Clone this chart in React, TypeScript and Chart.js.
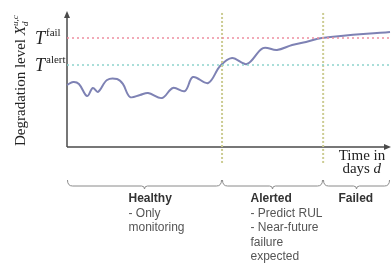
import React, { useEffect, useRef } from "react";
import { Chart, registerables } from "chart.js";

Chart.register(...registerables);

// Degradation curve (x = time in days, y = degradation level)
const days = [0, 1.9, 3.7, 6.2, 8, 9.6, 12.4, 15.5, 17.3, 19.5, 22.6, 25.1, 29.4, 32.8, 36.5, 39, 43.7, 47.4, 51.1, 55.7, 60.7, 65, 69.7, 74, 78.9, 100];
const degradation = [46.6, 48.9, 47.4, 38.3, 44.4, 41.4, 50.4, 51.1, 47.4, 37.6, 39.1, 40.6, 36.8, 44.4, 42.1, 52.6, 48.1, 60.9, 66.9, 62.4, 74.4, 72.9, 76.7, 78.9, 82, 86.5];

// Thresholds
const thresholdFail = 82;
const thresholdAlert = 61.6;

// Phase boundaries (days)
const phaseBounds = [0, 48, 79.3, 100];
const alertDay = 48;
const failDay = 79.3;

// Phase labels (first line bold, rest regular)
const phaseTexts: string[][] = [
  ["Healthy", "- Only", "monitoring"],
  ["Alerted", "- Predict RUL", "- Near-future", "failure", "expected"],
  ["Failed"],
];
const phaseTextOffsets = [-16, -22, -18];

const xAxisLabel = ["Time in", "days d"];
const yAxisLabel = "Degradation level X";

const SERIF = "'Liberation Serif', 'DejaVu Serif', serif";
const SANS = "'Liberation Sans', Arial, sans-serif";

const decorPlugin = {
  id: "decor",
  beforeDatasetsDraw(chart: any) {
    const { ctx, chartArea } = chart;
    const { left, right, top, bottom } = chartArea;
    ctx.save();
    ctx.strokeStyle = "#4a4a4a";
    ctx.fillStyle = "#4a4a4a";
    ctx.lineWidth = 1.5;
    // y axis
    ctx.beginPath();
    ctx.moveTo(left, bottom);
    ctx.lineTo(left, top + 2);
    ctx.stroke();
    ctx.beginPath();
    ctx.moveTo(left, top - 3);
    ctx.lineTo(left - 3, top + 4);
    ctx.lineTo(left + 3, top + 4);
    ctx.closePath();
    ctx.fill();
    // x axis
    ctx.beginPath();
    ctx.moveTo(left, bottom);
    ctx.lineTo(right - 3, bottom);
    ctx.stroke();
    ctx.beginPath();
    ctx.moveTo(right + 1, bottom);
    ctx.lineTo(right - 6, bottom - 3);
    ctx.lineTo(right - 6, bottom + 3);
    ctx.closePath();
    ctx.fill();
    ctx.restore();
  },
  afterDraw(chart: any) {
    const { ctx, scales } = chart;
    const xs = scales.x;
    const ys = scales.y;
    ctx.save();

    // Threshold labels T^fail, T^alert
    const drawT = (sup: string, val: number) => {
      const y = ys.getPixelForValue(val);
      ctx.fillStyle = "#222";
      ctx.textBaseline = "middle";
      ctx.textAlign = "left";
      ctx.font = `italic 18px ${SERIF}`;
      ctx.fillText("T", 35, y + 1);
      ctx.font = `11px ${SERIF}`;
      ctx.fillText(sup, 46, y - 5);
    };
    drawT("fail", thresholdFail);
    drawT("alert", thresholdAlert);

    // y axis label (rotated)
    ctx.save();
    ctx.translate(25, 146);
    ctx.rotate(-Math.PI / 2);
    ctx.fillStyle = "#222";
    ctx.textAlign = "left";
    ctx.textBaseline = "alphabetic";
    ctx.font = `15px ${SERIF}`;
    ctx.fillText(yAxisLabel.slice(0, -1), 0, 0);
    const w1 = ctx.measureText(yAxisLabel.slice(0, -1)).width;
    ctx.font = `italic 15px ${SERIF}`;
    ctx.fillText("X", w1, 0);
    const w2 = ctx.measureText("X").width;
    ctx.font = `italic 9px ${SERIF}`;
    ctx.fillText("u,c", w1 + w2, -7);
    ctx.fillText("d", w1 + w2, 3);
    ctx.restore();

    // x axis label
    ctx.fillStyle = "#222";
    ctx.textAlign = "center";
    ctx.textBaseline = "middle";
    ctx.font = `15px ${SERIF}`;
    ctx.fillText(xAxisLabel[0], 362, 156);
    const dw = ctx.measureText("days ").width;
    ctx.textAlign = "left";
    const totalW = dw + 8;
    ctx.fillText("days ", 362 - totalW / 2, 169);
    ctx.font = `italic 15px ${SERIF}`;
    ctx.fillText("d", 362 - totalW / 2 + dw, 169);

    // braces
    const y0 = 186;
    ctx.strokeStyle = "#8a8a8a";
    ctx.lineWidth = 1;
    for (let i = 0; i < phaseBounds.length - 1; i++) {
      const a = Math.round(xs.getPixelForValue(phaseBounds[i])) + 0.5;
      const b = Math.min(Math.round(xs.getPixelForValue(phaseBounds[i + 1])), chart.width - 1) - 0.5;
      const m = (a + b) / 2;
      ctx.beginPath();
      ctx.moveTo(a, y0 - 6);
      ctx.quadraticCurveTo(a, y0, a + 5, y0);
      ctx.lineTo(m - 3, y0);
      ctx.quadraticCurveTo(m, y0, m, y0 + 3);
      ctx.quadraticCurveTo(m, y0, m + 3, y0);
      ctx.lineTo(b - 5, y0);
      ctx.quadraticCurveTo(b, y0, b, y0 - 6);
      ctx.stroke();

      // phase text
      const lines = phaseTexts[i];
      const tx = m + phaseTextOffsets[i];
      ctx.textAlign = "left";
      ctx.textBaseline = "middle";
      lines.forEach((ln, j) => {
        if (j === 0) {
          ctx.font = `bold 12px ${SANS}`;
          ctx.fillStyle = "#333";
        } else {
          ctx.font = `12px ${SANS}`;
          ctx.fillStyle = "#555";
        }
        ctx.fillText(ln, tx, 199 + j * 14.5);
      });
    }
    ctx.restore();
  },
};

export default function App() {
  const ref = useRef<HTMLCanvasElement | null>(null);
  useEffect(() => {
    document.body.style.margin = "0";
    const canvas = ref.current;
    if (!canvas) return;
    const curve = days.map((d, i) => ({ x: d, y: degradation[i] }));
    const chart = new Chart(canvas, {
      type: "scatter",
      data: {
        datasets: [
          {
            data: [{ x: 0, y: thresholdFail }, { x: 100, y: thresholdFail }],
            showLine: true,
            borderColor: "#ee8fa0",
            borderWidth: 1.5,
            borderDash: [2, 3],
            pointRadius: 0,
          },
          {
            data: [{ x: 0, y: thresholdAlert }, { x: 100, y: thresholdAlert }],
            showLine: true,
            borderColor: "#8fd3cd",
            borderWidth: 1.5,
            borderDash: [2, 3],
            pointRadius: 0,
          },
          {
            data: [{ x: alertDay, y: -12 }, { x: alertDay, y: 101 }],
            showLine: true,
            borderColor: "#cccc92",
            borderWidth: 2,
            borderDash: [2, 2],
            pointRadius: 0,
            clip: false,
          },
          {
            data: [{ x: failDay, y: -12 }, { x: failDay, y: 101 }],
            showLine: true,
            borderColor: "#cccc92",
            borderWidth: 2,
            borderDash: [2, 2],
            pointRadius: 0,
            clip: false,
          },
          {
            data: curve,
            showLine: true,
            borderColor: "#7e82b4",
            borderWidth: 2,
            tension: 0.35,
            pointRadius: 0,
            clip: false,
          },
        ],
      },
      options: {
        responsive: false,
        animation: false,
        events: [],
        layout: { padding: { left: 67, right: 1, top: 14, bottom: 120 } },
        plugins: { legend: { display: false }, tooltip: { enabled: false } },
        scales: {
          x: { type: "linear", min: 0, max: 100, display: false },
          y: { type: "linear", min: 0, max: 100, display: false },
        },
      },
      plugins: [decorPlugin],
    } as any);
    return () => chart.destroy();
  }, []);
  return <canvas ref={ref} width={391} height={267} style={{ display: "block" }} />;
}
